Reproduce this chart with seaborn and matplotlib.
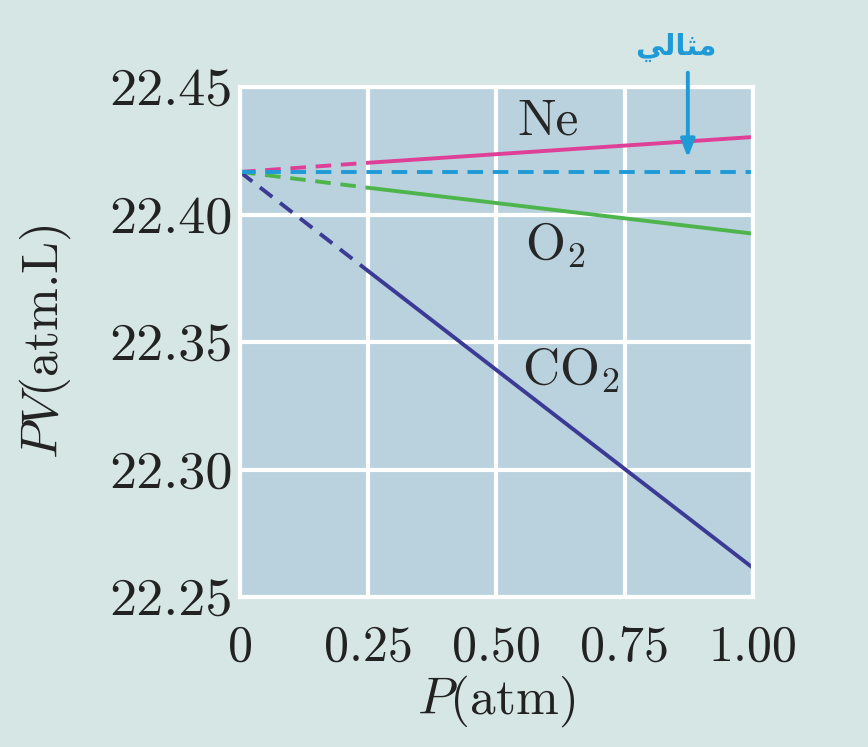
import matplotlib
matplotlib.use("Agg")
import matplotlib.pyplot as plt
import pandas as pd
import seaborn as sns

# Data
pressure = [0, 0.25, 1.00]
pv_ne = [22.4167, 22.4203, 22.4304]
pv_o2 = [22.4167, 22.4105, 22.3925]
pv_co2 = [22.4167, 22.3778, 22.2614]
ideal_pv = 22.4167

gas_names = ["Ne", "O$_2$", "CO$_2$"]
gas_colors = ["#de3f97", "#4db54b", "#3b3b95"]
ideal_label = "\uFEF2\uFEDF\uFE8E\uFE9C\uFEE3"  # مثالي (shaped, visual order)

x_ticks = [0, 0.25, 0.50, 0.75, 1.00]
x_tick_labels = ["0", "0.25", "0.50", "0.75", "1.00"]
y_ticks = [22.25, 22.30, 22.35, 22.40, 22.45]
y_tick_labels = ["22.25", "22.30", "22.35", "22.40", "22.45"]

sns.set_theme(style="darkgrid", rc={
    "axes.facecolor": "#bad2de",
    "figure.facecolor": "#d6e6e4",
    "grid.color": "white",
    "grid.linewidth": 3.0,
    "axes.edgecolor": "white",
    "axes.linewidth": 3.0,
})
plt.rcParams["font.family"] = ["cmr10", "DejaVu Serif"]
plt.rcParams["mathtext.fontset"] = "cm"
plt.rcParams["axes.formatter.use_mathtext"] = True

fig = plt.figure(figsize=(8.68, 7.47), dpi=100)
ax = fig.add_axes([0.2765, 0.2008, 0.591, 0.6827])

for name, vals, col in zip(gas_names, [pv_ne, pv_o2, pv_co2], gas_colors):
    df = pd.DataFrame({"P": pressure, "PV": vals})
    sns.lineplot(data=df.iloc[:2], x="P", y="PV", ax=ax, color=col,
                 linewidth=2.8, linestyle=(0, (4, 2.5)))
    sns.lineplot(data=df.iloc[1:], x="P", y="PV", ax=ax, color=col,
                 linewidth=2.8)

ax.axhline(ideal_pv, color="#1f9ad6", linewidth=2.8, linestyle=(0, (4, 2.5)))

ax.annotate("", xy=(0.873, 22.4212), xytext=(0.873, 22.4567),
            arrowprops=dict(arrowstyle="-|>,head_width=0.35,head_length=0.9",
                            color="#1f9ad6", lw=2.8),
            annotation_clip=False)
ax.text(0.85, 22.4655, ideal_label, color="#1f9ad6", fontsize=21,
        fontweight="bold", family=["DejaVu Sans"], ha="center", va="center",
        clip_on=False)

fs = 37
ax.text(0.60, 22.4365, gas_names[0], fontsize=fs, ha="center", va="center")
ax.text(0.615, 22.388, gas_names[1], fontsize=fs, ha="center", va="center")
ax.text(0.645, 22.339, gas_names[2], fontsize=fs, ha="center", va="center")

ax.set_xlim(0, 1.0)
ax.set_ylim(22.25, 22.45)
ax.set_xticks(x_ticks)
ax.set_xticklabels(x_tick_labels)
ax.set_yticks(y_ticks)
ax.set_yticklabels(y_tick_labels)
ax.tick_params(axis="x", labelsize=fs - 1, length=0, pad=20, colors="#222222")
ax.tick_params(axis="y", labelsize=fs + 2, length=0, pad=5, colors="#222222")
ax.set_xlabel("$P$(atm)", fontsize=fs, labelpad=2, color="#222222")
ax.set_ylabel("$PV$(atm.L)", fontsize=fs, labelpad=26, color="#222222")

fig.savefig("out.png", dpi=100)
